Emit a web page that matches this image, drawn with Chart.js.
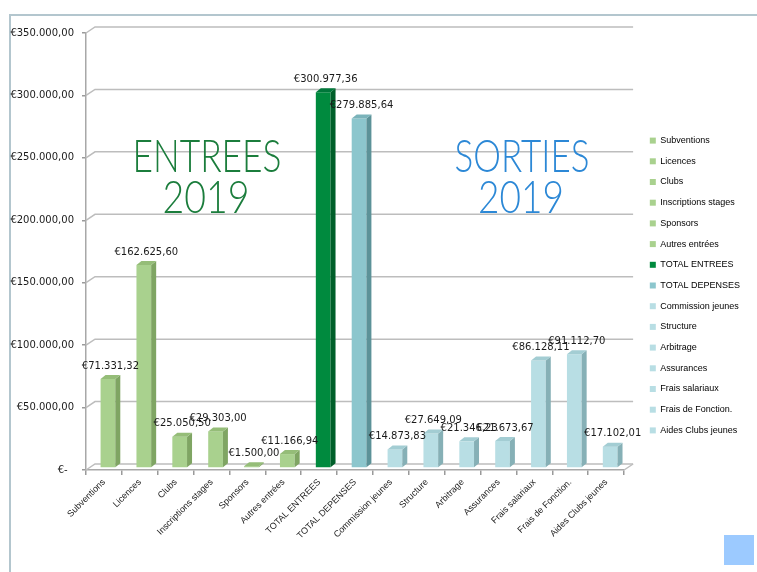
<!DOCTYPE html>
<html>
<head>
<meta charset="utf-8">
<script src="https://cdn.jsdelivr.net/npm/chart.js@4.4.1/dist/chart.umd.min.js"></script>
<style>
  html, body { margin: 0; padding: 0; background: #fff; }
  #wrap { position: relative; width: 757px; height: 572px; overflow: hidden; }
  #frame { position: absolute; left: 9px; top: 14px; width: 760px; height: 556px;
           border-left: 2px solid #b3c6ce; border-top: 2px solid #b3c6ce; border-bottom: 1px solid #e3e3e3; }
  #corner { position: absolute; left: 724px; top: 535px; width: 30px; height: 30px; background: #9ccaff; }
  canvas { position: absolute; left: 0; top: 0; }
</style>
</head>
<body>
<div id="wrap">
  <div id="frame"></div>
  <div id="corner"></div>
  <canvas id="chartComptes" width="757" height="572"></canvas>
</div>
<script>
// categories (entrées puis sorties)
const categories = [
  'Subventions', 'Licences', 'Clubs', 'Inscriptions stages', 'Sponsors', 'Autres entrées',
  'TOTAL ENTREES', 'TOTAL DEPENSES', 'Commission jeunes', 'Structure', 'Arbitrage',
  'Assurances', 'Frais salariaux', 'Frais de Fonction.', 'Aides Clubs jeunes'
];
// montants 2019 en euros
const montants = [
  71331.32, 162625.60, 25050.50, 29303.00, 1500.00, 11166.94,
  300977.36, 279885.64, 14873.83, 27649.09, 21346.23,
  21673.67, 86128.11, 91112.70, 17102.01
];
// graduations de l'axe Y
const yTicks = [0, 50000, 100000, 150000, 200000, 250000, 300000, 350000];

// couleurs : face avant, côté, dessus
function barColors(i) {
  if (i < 6) return ['#a9d18e', '#7fa563', '#95bd78'];
  if (i === 6) return ['#008a3e', '#005f2a', '#00773a'];
  if (i === 7) return ['#8cc6cd', '#5c9298', '#7ab3ba'];
  return ['#b8dee4', '#86b0b6', '#a3cdd3'];
}

function euro(v) {
  if (v === 0) return '€-  ';
  const parts = v.toFixed(2).split('.');
  return '€' + parts[0].replace(/\B(?=(\d{3})+(?!\d))/g, '.') + ',' + parts[1];
}

const WALL = { dx: 9, dy: -6 };   // décalage du mur du fond
const DEPTH = { dx: 5, dy: -4 };  // profondeur des barres
const SHIFT = { x: 4, y: -2 };    // barres au milieu de la profondeur

// texte fin et étroit, ajusté à une largeur donnée
function drawHeading(ctx, text, cx, baseline, width, color) {
  ctx.save();
  ctx.font = '300 46px Lato, "Open Sans", sans-serif';
  const w = ctx.measureText(text).width;
  ctx.translate(cx, baseline);
  ctx.scale(width / w, 1);
  ctx.fillStyle = color;
  ctx.textAlign = 'center';
  ctx.textBaseline = 'alphabetic';
  ctx.fillText(text, 0, 0);
  ctx.restore();
}

const chart3d = {
  id: 'chart3d',
  beforeDatasetsDraw(chart) {
    const { ctx, chartArea } = chart;
    const y = chart.scales.y;
    ctx.save();
    ctx.strokeStyle = '#bdbdbd';
    ctx.lineWidth = 1.5;
    y.ticks.forEach(t => {
      const py = y.getPixelForValue(t.value);
      ctx.beginPath();
      ctx.moveTo(chartArea.left, py);
      ctx.lineTo(chartArea.left + WALL.dx, py + WALL.dy);
      ctx.lineTo(chartArea.right + WALL.dx, py + WALL.dy);
      ctx.stroke();
    });
    // bord droit du plancher
    ctx.beginPath();
    ctx.moveTo(chartArea.right, chartArea.bottom);
    ctx.lineTo(chartArea.right + WALL.dx, chartArea.bottom + WALL.dy);
    ctx.stroke();
    ctx.restore();

    drawHeading(ctx, 'ENTREES', 207, 172, 149, '#1b7d3c');
    drawHeading(ctx, '2019', 206, 213, 87, '#1b7d3c');
    drawHeading(ctx, 'SORTIES', 522, 172, 135, '#2c88d6');
    drawHeading(ctx, '2019', 521, 213, 86, '#2c88d6');

    ctx.save();
    ctx.translate(SHIFT.x, SHIFT.y);
  },
  afterDatasetsDraw(chart) {
    const { ctx } = chart;
    const meta = chart.getDatasetMeta(0);
    meta.data.forEach((bar, i) => {
      const { x, y, base, width } = bar.getProps(['x', 'y', 'base', 'width'], true);
      const l = x - width / 2, r = x + width / 2;
      const c = barColors(i);
      ctx.fillStyle = c[1];
      ctx.beginPath();
      ctx.moveTo(r, y);
      ctx.lineTo(r + DEPTH.dx, y + DEPTH.dy);
      ctx.lineTo(r + DEPTH.dx, base + DEPTH.dy);
      ctx.lineTo(r, base);
      ctx.closePath();
      ctx.fill();
      ctx.fillStyle = c[2];
      ctx.beginPath();
      ctx.moveTo(l, y);
      ctx.lineTo(l + DEPTH.dx, y + DEPTH.dy);
      ctx.lineTo(r + DEPTH.dx, y + DEPTH.dy);
      ctx.lineTo(r, y);
      ctx.closePath();
      ctx.fill();

      ctx.fillStyle = '#1a1a1a';
      ctx.font = '10px "DejaVu Sans", sans-serif';
      ctx.textAlign = 'center';
      ctx.textBaseline = 'middle';
      ctx.fillText(euro(montants[i]), x + DEPTH.dx / 2, y - 13);
    });
    ctx.restore();
  }
};

new Chart(document.getElementById('chartComptes'), {
  type: 'bar',
  data: {
    labels: categories,
    datasets: [{
      label: 'Montant 2019',
      data: montants,
      backgroundColor: categories.map((_, i) => barColors(i)[0]),
      borderWidth: 0,
      barPercentage: 0.41,
      categoryPercentage: 1
    }]
  },
  options: {
    responsive: false,
    animation: false,
    devicePixelRatio: 1,
    layout: { padding: { top: 33, left: 0, right: 7, bottom: 34 } },
    plugins: {
      tooltip: { enabled: false },
      legend: {
        position: 'right',
        align: 'center',
        labels: {
          boxWidth: 6,
          boxHeight: 6,
          padding: 11.7,
          color: '#1a1a1a',
          font: { family: '"Liberation Sans", Arial, sans-serif', size: 9 },
          generateLabels: () => categories.map((name, i) => ({
            text: name,
            fillStyle: barColors(i)[0],
            strokeStyle: barColors(i)[0],
            lineWidth: 0,
            hidden: false,
            index: i
          }))
        }
      }
    },
    scales: {
      x: {
        grid: { display: true, drawOnChartArea: false, offset: true, tickLength: 5, color: '#9a9a9a', lineWidth: 1.5 },
        border: { display: true, color: '#a8a8a8', width: 1.5 },
        ticks: {
          autoSkip: false, minRotation: 45, maxRotation: 45, padding: 2,
          color: '#222',
          font: { family: '"Liberation Sans", Arial, sans-serif', size: 9 }
        },
        afterFit: s => { s.height = 68; }
      },
      y: {
        min: 0,
        max: 350000,
        afterBuildTicks: s => { s.ticks = yTicks.map(v => ({ value: v })); },
        grid: { display: true, drawOnChartArea: false, tickLength: 4, color: '#9a9a9a', lineWidth: 1.5 },
        border: { display: true, color: '#a8a8a8', width: 1.5 },
        ticks: {
          padding: 8,
          color: '#1a1a1a',
          font: { family: '"DejaVu Sans", sans-serif', size: 10 },
          callback: v => euro(v)
        },
        afterFit: s => { s.width = 86; }
      },
      gap: {
        type: 'linear',
        position: 'right',
        display: true,
        grid: { display: false },
        border: { display: false },
        ticks: { display: false },
        afterFit: s => { s.width = 14; }
      }
    }
  },
  plugins: [chart3d]
});
</script>
</body>
</html>
